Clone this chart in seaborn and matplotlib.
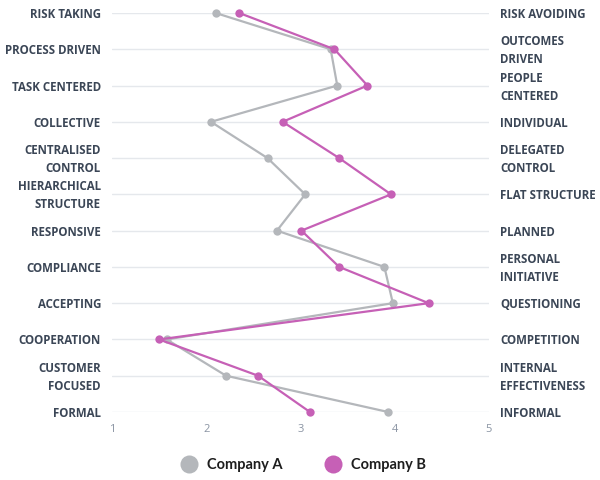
import pandas as pd
import matplotlib.pyplot as plt
import matplotlib.transforms as mtransforms
import seaborn as sns
from matplotlib.lines import Line2D

left_labels = ["RISK TAKING", "PROCESS DRIVEN", "TASK CENTERED", "COLLECTIVE",
               "CENTRALISED\nCONTROL", "HIERARCHICAL\nSTRUCTURE", "RESPONSIVE",
               "COMPLIANCE", "ACCEPTING", "COOPERATION", "CUSTOMER\nFOCUSED", "FORMAL"]
right_labels = ["RISK AVOIDING", "OUTCOMES\nDRIVEN", "PEOPLE\nCENTERED", "INDIVIDUAL",
                "DELEGATED\nCONTROL", "FLAT STRUCTURE", "PLANNED",
                "PERSONAL\nINITIATIVE", "QUESTIONING", "COMPETITION",
                "INTERNAL\nEFFECTIVENESS", "INFORMAL"]
company_a = [2.10, 3.32, 3.39, 2.05, 2.65, 3.05, 2.75, 3.89, 3.98, 1.58, 2.21, 3.93]
company_b = [2.35, 3.36, 3.71, 2.81, 3.41, 3.96, 3.01, 3.41, 4.36, 1.50, 2.55, 3.10]
x_ticks = [1, 2, 3, 4, 5]

colors = {"Company A": "#b4b7bb", "Company B": "#c660b6"}
label_color = "#3b4656"

rows = list(range(len(left_labels)))
df = pd.concat([
    pd.DataFrame({"row": rows, "score": company_a, "company": "Company A"}),
    pd.DataFrame({"row": rows, "score": company_b, "company": "Company B"}),
])

sns.set_style("white")
plt.rcParams["font.family"] = ["Open Sans", "DejaVu Sans"]

fig = plt.figure(figsize=(6, 4.8), dpi=100)
ax = fig.add_axes([112 / 600, 1 - 412 / 480, (489 - 112) / 600, (412 - 13) / 480])

sns.lineplot(data=df, x="score", y="row", hue="company", palette=colors,
             orient="y", marker="o", markersize=6, markeredgewidth=0,
             linewidth=1.6, legend=False, ax=ax, clip_on=False)

ax.set_xlim(1, 5)
ax.set_ylim(len(rows) - 1, 0)
ax.set_xticks(x_ticks)
ax.set_xticklabels([str(t) for t in x_ticks], color="#8a94a3", fontsize=8)
ax.set_yticks(rows)
ax.set_yticklabels(left_labels, fontsize=8.3, fontweight="bold", color=label_color)
ax.tick_params(axis="both", length=0)
ax.tick_params(axis="y", pad=8)
ax.tick_params(axis="x", pad=9)
for r in rows:
    ax.axhline(r, color="#e5e8ec", linewidth=1, zorder=0)
for s in ax.spines.values():
    s.set_visible(False)
ax.set_xlabel("")
ax.set_ylabel("")

ax2 = ax.twinx()
ax2.set_ylim(ax.get_ylim())
ax2.set_yticks(rows)
ax2.set_yticklabels(right_labels, fontsize=8.3, fontweight="bold", color=label_color)
ax2.tick_params(axis="y", length=0, pad=8)
for s in ax2.spines.values():
    s.set_visible(False)

# nudge labels down a touch so they sit on the gridlines
shift = mtransforms.ScaledTranslation(0, -1.5 / 100, fig.dpi_scale_trans)
for t in ax.get_yticklabels() + ax2.get_yticklabels():
    t.set_linespacing(1.5)
    t.set_verticalalignment("center")
    t.set_transform(t.get_transform() + shift)

handles = [Line2D([], [], linestyle="none", marker="o", markersize=13,
                  markerfacecolor=colors[k], markeredgewidth=0) for k in colors]
leg = fig.legend(handles, list(colors), loc="center", bbox_to_anchor=(0.5, 1 - 465 / 480),
                 ncol=2, frameon=False, handletextpad=0.2, columnspacing=2.5,
                 prop={"family": ["Lato", "DejaVu Sans"], "size": 10.5, "weight": "bold"})
for t in leg.get_texts():
    t.set_color("#1e1e1e")

fig.savefig("out.png", dpi=100)
